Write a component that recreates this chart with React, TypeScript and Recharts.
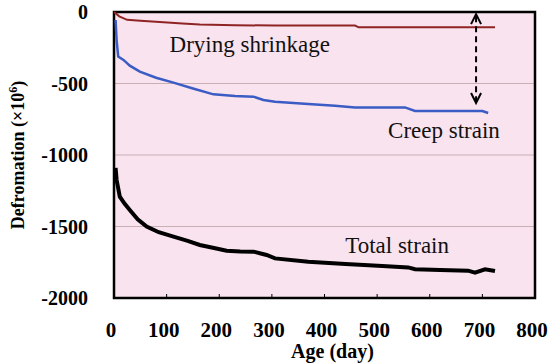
import { LineChart, Line, XAxis, YAxis, CartesianGrid, ReferenceArea, ReferenceLine, ReferenceDot } from "recharts";

const X_TICKS = [0, 100, 200, 300, 400, 500, 600, 700, 800];
const Y_TICKS = [0, -500, -1000, -1500, -2000];

const SHRINK_AGE = [0, 10, 25, 50, 87, 130, 163, 230, 306, 400, 458, 465, 600, 724];
const SHRINK_VAL = [0, -30, -55, -62, -70, -80, -88, -92, -95, -95, -95, -107, -107, -107];

const CREEP_AGE = [3, 5, 8, 18, 30, 49, 80, 113, 150, 189, 230, 265, 284, 306, 369, 420, 458, 553, 572, 650, 700, 711];
const CREEP_VAL = [-56, -200, -312, -335, -375, -417, -460, -494, -535, -576, -588, -592, -615, -627, -643, -655, -667, -667, -692, -692, -692, -706];

const TOTAL_AGE = [3, 5, 11, 20, 30, 45, 62, 85, 113, 140, 163, 190, 214, 240, 265, 290, 306, 369, 440, 510, 559, 572, 620, 673, 686, 705, 724];
const TOTAL_VAL = [-1090, -1175, -1291, -1340, -1385, -1450, -1501, -1540, -1571, -1600, -1629, -1650, -1669, -1674, -1676, -1699, -1723, -1746, -1762, -1776, -1786, -1799, -1805, -1809, -1823, -1799, -1811];

const toRows = (ages: number[], vals: number[]) => ages.map((a, i) => ({ age: a, v: vals[i] }));

const shrinkData = toRows(SHRINK_AGE, SHRINK_VAL);
const creepData = toRows(CREEP_AGE, CREEP_VAL);
const totalData = toRows(TOTAL_AGE, TOTAL_VAL);

const FONT = "Liberation Serif, DejaVu Serif, serif";

function XTick(props: any) {
  const { x, y, payload } = props;
  return (
    <g>
      <line x1={x} x2={x} y1={y - 23} y2={y - 28} stroke="#000" strokeWidth={1} />
      <text x={x - 3} y={y} dy="0.71em" textAnchor="middle" style={{ fontFamily: FONT }} fontWeight="bold" fontSize={21} fill="#000">
        {payload.value}
      </text>
    </g>
  );
}

function YTick(props: any) {
  const { x, y, payload } = props;
  return (
    <text x={x} y={y} dy="0.35em" textAnchor="end" style={{ fontFamily: FONT }} fontWeight="bold" fontSize={20} fill="#000">
      {payload.value}
    </text>
  );
}

function ArrowShape(props: any) {
  const { x1, y1, x2, y2 } = props;
  if (x1 == null) return null;
  return (
    <g stroke="#000" strokeWidth={2} fill="none">
      <line x1={x1} x2={x2} y1={y1 + 2} y2={y2 - 2} strokeDasharray="6 4" />
      <polyline points={`${x1 - 5},${y1 + 10} ${x1},${y1} ${x1 + 5},${y1 + 10}`} />
      <polyline points={`${x2 - 5},${y2 - 10} ${x2},${y2} ${x2 + 5},${y2 - 10}`} />
    </g>
  );
}

function textLabel(value: string) {
  return (props: any) => {
    const { viewBox } = props;
    const cx = viewBox.x + (viewBox.width || 0) / 2;
    const cy = viewBox.y + (viewBox.height || 0) / 2;
    return (
      <text x={cx} y={cy} dy="0.35em" textAnchor="middle" style={{ fontFamily: FONT }} fontSize={23} fill="#111">
        {value}
      </text>
    );
  };
}

export default function App() {
  return (
    <div style={{ position: "absolute", left: 0, top: 0, width: 550, height: 363, background: "#fff" }}>
      <LineChart width={550} height={363} margin={{ top: 12, right: 15, bottom: 10, left: 0 }}>
        <CartesianGrid vertical={false} fill="#f9e3ee" stroke="#c9aeb4" strokeWidth={1} />
        <XAxis
          type="number"
          dataKey="age"
          domain={[0, 800]}
          ticks={X_TICKS}
          interval={0}
          axisLine={false}
          tickLine={false}
          tickSize={0}
          tickMargin={24}
          height={55}
          tick={<XTick />}
          label={(props: any) => {
            const { viewBox } = props;
            const cx = viewBox.x + viewBox.width / 2 + 8;
            return (
              <text x={cx} y={351} dy="0.35em" textAnchor="middle" style={{ fontFamily: FONT }} fontWeight="bold" fontSize={20} fill="#000">
                Age (day)
              </text>
            );
          }}
        />
        <YAxis
          type="number"
          domain={[-2000, 0]}
          ticks={Y_TICKS}
          interval={0}
          width={114}
          axisLine={false}
          tickLine={false}
          tickSize={0}
          tickMargin={26}
          tick={<YTick />}
          label={(props: any) => {
            const { viewBox } = props;
            const cy = viewBox.y + viewBox.height / 2;
            return (
              <text x={24} y={cy} transform={`rotate(-90, 24, ${cy})`} textAnchor="middle" style={{ fontFamily: FONT }} fontWeight="bold" fontSize={18} fill="#000">
                Defromation (×10<tspan dy={-7} fontSize={12}>6</tspan><tspan dy={7}>)</tspan>
              </text>
            );
          }}
        />
        <ReferenceArea x1={0} x2={800} y1={-2000} y2={0} fill="none" stroke="#000" strokeWidth={2.5} />
        <Line data={shrinkData} dataKey="v" type="linear" stroke="#8e2424" strokeWidth={2} dot={false} isAnimationActive={false} />
        <Line data={creepData} dataKey="v" type="linear" stroke="#3a5cc4" strokeWidth={2.5} dot={false} isAnimationActive={false} />
        <Line data={totalData} dataKey="v" type="linear" stroke="#000" strokeWidth={4} dot={false} isAnimationActive={false} />
        <ReferenceLine segment={[{ x: 688, y: -15 }, { x: 688, y: -636 }]} shape={<ArrowShape />} />
        <ReferenceDot x={258} y={-224} r={0} fill="none" stroke="none" label={textLabel("Drying shrinkage")} />
        <ReferenceDot x={627} y={-825} r={0} fill="none" stroke="none" label={textLabel("Creep strain")} />
        <ReferenceDot x={538} y={-1629} r={0} fill="none" stroke="none" label={textLabel("Total strain")} />
      </LineChart>
    </div>
  );
}
